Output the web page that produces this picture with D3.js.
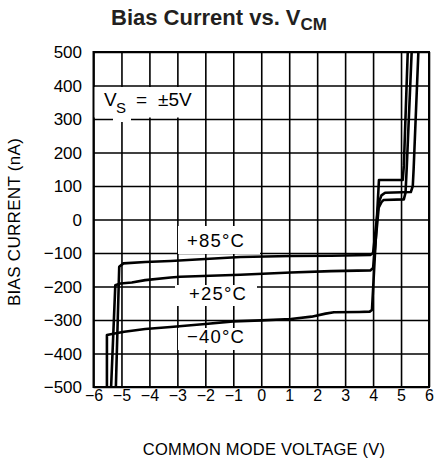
<!DOCTYPE html>
<html>
<head>
<meta charset="utf-8">
<script src="https://cdn.jsdelivr.net/npm/d3@7"></script>
<style>
  html, body { margin: 0; padding: 0; background: #fff; }
  svg { display: block; font-family: "Liberation Sans", Arial, sans-serif; }
</style>
</head>
<body>
<svg id="chart" width="435" height="459"></svg>
<script>
// ---- data ----
const xTicks = [-6, -5, -4, -3, -2, -1, 0, 1, 2, 3, 4, 5, 6];
const yTicks = [-500, -400, -300, -200, -100, 0, 100, 200, 300, 400, 500];

const vcm85 = [-5.2, -5.08, -4.93, -4.15, -3.24, -2, -0.74, 1.06, 2.5, 3.9, 4.0, 4.2, 4.3, 4.43, 5.35, 5.42, 5.45, 5.62];
const ib85  = [-500, -141, -131, -127, -124, -118, -112, -109, -108, -106, -100, 50, 72, 80, 82, 100, 150, 500];

const vcm25 = [-5.37, -5.22, -5.04, -4.63, -4.15, -3.24, -2.9, -0.75, 1.06, 2.5, 3.9, 4.0, 4.2, 4.3, 4.37, 5.1, 5.16, 5.2, 5.38];
const ib25  = [-500, -196, -191, -188, -181, -173, -171, -165, -158, -154, -152, -145, 35, 52, 58, 60, 80, 148, 500];

const vcmM40 = [-5.52, -5.52, -5.34, -4.9, -4.15, -3.24, -2, -1, 0, 1.06, 1.8, 2.3, 2.6, 3.5, 3.88, 3.96, 4.21, 5.06, 5.1, 5.24];
const ibM40  = [-500, -345, -342, -335, -327, -321, -312, -304, -301, -297, -290, -281, -277, -276, -275, -270, 118, 118, 160, 500];

const seriesLabels = ["+85°C", "+25°C", "\u221240°C"];

// ---- layout ----
const svg = d3.select("#chart");
const L = 93.5, R = 429, T = 52, B = 387;
const x = d3.scaleLinear().domain([-6, 6]).range([L, R]);
const y = d3.scaleLinear().domain([-500, 500]).range([B, T]);
const fmt = d => d < 0 ? "\u2212" + Math.abs(d) : String(d);

// title
const title = svg.append("text")
  .attr("x", 219).attr("y", 25)
  .attr("text-anchor", "middle")
  .attr("font-size", 22).attr("font-weight", "bold")
  .attr("fill", "#231f20");
title.append("tspan").text("Bias Current vs. V");
title.append("tspan").attr("font-size", 17).attr("dy", 4.5).text("CM");

// grid via axes
const gx = svg.append("g").attr("transform", `translate(0,${B})`)
  .call(d3.axisBottom(x).tickValues(xTicks).tickSize(-(B - T)).tickPadding(3).tickFormat(fmt));
const gy = svg.append("g").attr("transform", `translate(${L},0)`)
  .call(d3.axisLeft(y).tickValues(yTicks).tickSize(-(R - L)).tickPadding(11.5).tickFormat(fmt));
[gx, gy].forEach(g => {
  g.select(".domain").remove();
  g.selectAll(".tick line").attr("stroke", "#000").attr("stroke-width", 1.6);
  g.selectAll(".tick text").attr("fill", "#000").attr("font-family", "Liberation Sans, Arial, sans-serif");
});
gx.selectAll(".tick text").attr("font-size", 16);
gy.selectAll(".tick text").attr("font-size", 17).attr("dy", "0.35em");

// white label boxes hiding the grid
const boxes = [
  [94, 87, 106, 30.5], [113, 115, 18, 7],
  [178, 226, 82, 28], [175, 285, 82, 21], [178, 328, 82, 22]
];
svg.append("g").selectAll("rect").data(boxes).join("rect")
  .attr("x", d => d[0]).attr("y", d => d[1]).attr("width", d => d[2]).attr("height", d => d[3])
  .attr("fill", "#fff");

// border
svg.append("rect").attr("x", L).attr("y", T).attr("width", R - L).attr("height", B - T)
  .attr("fill", "none").attr("stroke", "#000").attr("stroke-width", 2);

// curves
svg.append("clipPath").attr("id", "clip").append("rect")
  .attr("x", L).attr("y", T).attr("width", R - L).attr("height", B - T);
const line = d3.line().x(d => x(d[0])).y(d => y(d[1]));
const series = [
  d3.zip(vcm85, ib85),
  d3.zip(vcm25, ib25),
  d3.zip(vcmM40, ibM40)
];
svg.append("g").attr("clip-path", "url(#clip)").selectAll("path").data(series).join("path")
  .attr("d", line).attr("fill", "none").attr("stroke", "#000")
  .attr("stroke-width", 2.6).attr("stroke-linejoin", "round");

// curve labels
const labelPos = [[216, 246.7], [218, 300], [216, 343.3]];
svg.append("g").selectAll("text").data(seriesLabels).join("text")
  .attr("x", (d, i) => labelPos[i][0]).attr("y", (d, i) => labelPos[i][1])
  .attr("text-anchor", "middle").attr("font-size", 18.5).attr("letter-spacing", 1.2)
  .text(d => d);

// supply label
const vs = svg.append("g").attr("font-size", 19);
vs.append("text").attr("x", 104).attr("y", 106).text("V");
vs.append("text").attr("x", 116).attr("y", 113).attr("font-size", 15).text("S");
vs.append("text").attr("x", 136).attr("y", 106).text("=");
vs.append("text").attr("x", 158).attr("y", 106).text("±5V");

// axis titles
svg.append("text").attr("x", 264).attr("y", 455).attr("text-anchor", "middle")
  .attr("font-size", 16.5).attr("letter-spacing", 0.2).text("COMMON MODE VOLTAGE (V)");
svg.append("text").attr("transform", "translate(20,222) rotate(-90)").attr("text-anchor", "middle")
  .attr("font-size", 17).attr("letter-spacing", 0.3).text("BIAS CURRENT (nA)");
</script>
</body>
</html>
